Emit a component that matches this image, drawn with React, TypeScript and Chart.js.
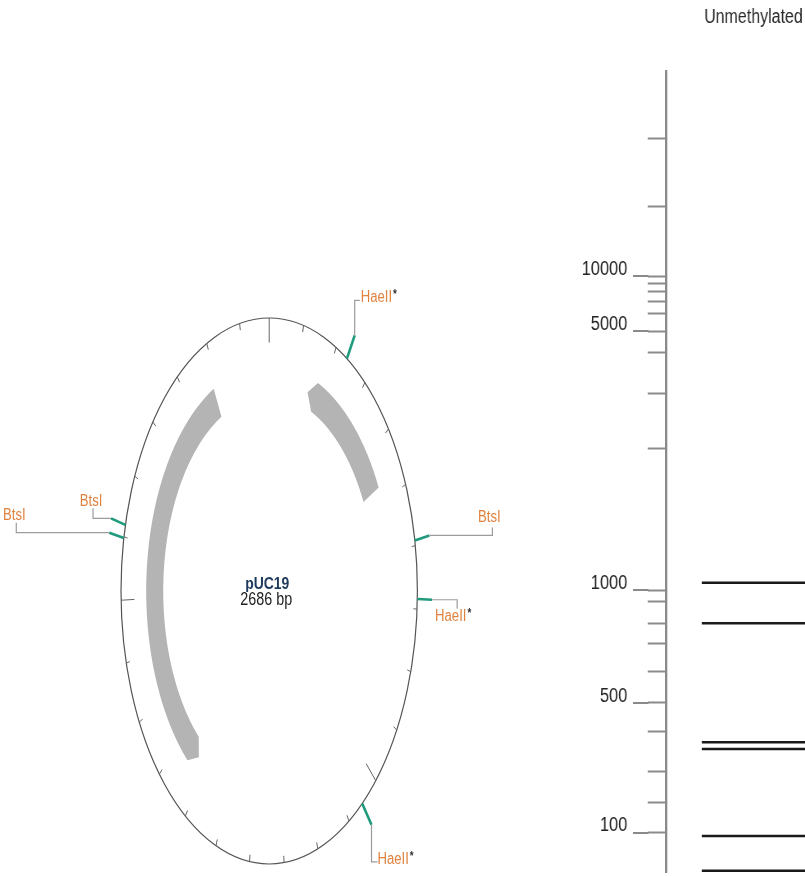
import React, { useEffect, useRef } from 'react';
import { Chart, registerables } from 'chart.js';

Chart.register(...registerables);

// ---------------- Plasmid map data ----------------
const plasmidName = 'pUC19';
const plasmidLength = 2686;
const featureNames = ['lacZα', 'AmpR'];
const featureStarts = [146, 1626];
const featureEnds = [469, 2486];
const featureStrands = [-1, -1];
const siteNames = ['HaeII*', 'BtsI', 'HaeII*', 'HaeII*', 'BtsI', 'BtsI'];
const sitePositions = [236, 592, 684, 1053, 2098, 2119];
const majorTickStep = 1000;
const minorTickStep = 100;

// ---------------- Gel data ----------------
const laneLabels = ['Unmethylated'];
const ladderSizes = [48500, 20000, 10000, 9000, 8000, 7000, 6000, 5000, 4000, 3000, 2000, 1000, 900, 800, 700, 600, 500, 400, 300, 200, 100];
const ladderMigration = [8.4, 16.9, 25.6, 26.5, 27.5, 28.8, 30.3, 32.5, 35.2, 40.2, 47.1, 64.8, 66.2, 69.0, 71.5, 75.0, 78.9, 82.4, 87.4, 91.3, 95.1];
const labeledSizes = [10000, 5000, 1000, 500, 100];
const bandSizes = [1045, 803, 369, 356, 92, 21];
const bandMigration = [63.9, 68.95, 83.8, 84.65, 95.5, 99.85];

// ---------------- Layout / style (not data) ----------------
const FAMILY = "'Liberation Sans', Arial, sans-serif";
const NARROW = 0.82; // horizontal squeeze giving a "narrow" face
const ORANGE = '#e0823f';
const GREEN = '#1f9a7c';
const LEADER = '#9c9c9c';
const FEATURE_GRAY = '#b4b4b4';
const BACKBONE = '#555555';
const AXIS_GRAY = '#8a8a8a';

const mapView = { xMin: -1.8165, xMax: 1.9622, yMin: -1.044, yMax: 2.1648 };
const ringInner = 0.715;
const ringOuter = 0.83;
const headBp = 28;
const siteInnerR = 1.0;
const siteOuterR = 1.1;

const siteLabelLayout = [
  { leader: [[0, -35], [5, 0]], label: [1, -3], align: 'left' },
  { leader: [[63, 0], [0, -8]], label: [-3, -10], align: 'center' },
  { leader: [[25, 0], [0, 9]], label: [-4, 8], align: 'center' },
  { leader: [[0, 37], [6, 0]], label: [0, -2], align: 'left' },
  { leader: [[-93, 0], [0, -10]], label: [-2, -7], align: 'center' },
  { leader: [[-18, 0], [0, -10]], label: [-2, -7], align: 'center' },
];

// gel canvas is rendered wider and squeezed by CSS to a narrow look
const GEL_CSS_W = 245;
const GEL_W = 299;
const laneStart = 0.259;
const laneEnd = 1;
const laneCenter = 0.63;
const majorTickLength = 40;
const minorTickLength = 22;

function toXY(bp: number, r: number) {
  const a = (bp / plasmidLength) * Math.PI * 2;
  return { x: r * Math.sin(a), y: r * Math.cos(a) };
}

function narrowText(ctx: CanvasRenderingContext2D, text: string, x: number, y: number) {
  ctx.save();
  ctx.translate(x, y);
  ctx.scale(NARROW, 1);
  ctx.fillText(text, 0, 0);
  ctx.restore();
}

function drawSiteLabel(ctx: CanvasRenderingContext2D, text: string, x: number, y: number, align: string) {
  const star = text.endsWith('*');
  const main = star ? text.slice(0, -1) : text;
  const labelFont = `16px ${FAMILY}`;
  const starFont = `bold 12px ${FAMILY}`;
  ctx.font = labelFont;
  const w = ctx.measureText(main).width * NARROW;
  ctx.font = starFont;
  const ws = star ? ctx.measureText('*').width * NARROW + 1 : 0;
  const total = w + ws;
  const left = align === 'center' ? x - total / 2 : x;
  ctx.textBaseline = 'middle';
  ctx.textAlign = 'left';
  ctx.font = labelFont;
  ctx.fillStyle = ORANGE;
  narrowText(ctx, main, left, y);
  if (star) {
    ctx.font = starFont;
    ctx.fillStyle = '#333333';
    narrowText(ctx, '*', left + w + 1, y - 3);
  }
}

const mapPlugin = {
  id: 'plasmidMap',
  beforeDatasetsDraw(chart: any) {
    const { ctx } = chart;
    const xs = chart.scales.x;
    const ys = chart.scales.y;
    const px = (bp: number, r: number) => {
      const p = toXY(bp, r);
      return [xs.getPixelForValue(p.x), ys.getPixelForValue(p.y)];
    };
    ctx.save();
    featureStarts.forEach((s, i) => {
      const e = featureEnds[i];
      const strand = featureStrands[i];
      const rMid = (ringInner + ringOuter) / 2;
      const bodyStart = strand < 0 ? s + headBp : s;
      const bodyEnd = strand < 0 ? e : e - headBp;
      const n = 80;
      ctx.beginPath();
      if (strand < 0) {
        const t = px(s, rMid);
        ctx.moveTo(t[0], t[1]);
      }
      for (let k = 0; k <= n; k++) {
        const bp = bodyStart + ((bodyEnd - bodyStart) * k) / n;
        const p = px(bp, ringOuter);
        if (k === 0 && strand >= 0) ctx.moveTo(p[0], p[1]);
        else ctx.lineTo(p[0], p[1]);
      }
      if (strand >= 0) {
        const t = px(e, rMid);
        ctx.lineTo(t[0], t[1]);
      }
      for (let k = n; k >= 0; k--) {
        const bp = bodyStart + ((bodyEnd - bodyStart) * k) / n;
        const p = px(bp, ringInner);
        ctx.lineTo(p[0], p[1]);
      }
      ctx.closePath();
      ctx.fillStyle = FEATURE_GRAY;
      ctx.fill();
    });
    const cx = xs.getPixelForValue(0);
    const cy = ys.getPixelForValue(0);
    const rx = xs.getPixelForValue(1) - cx;
    const ry = cy - ys.getPixelForValue(1);
    ctx.beginPath();
    ctx.ellipse(cx, cy, rx, ry, 0, 0, Math.PI * 2);
    ctx.strokeStyle = BACKBONE;
    ctx.lineWidth = 1.2;
    ctx.stroke();
    ctx.strokeStyle = '#666666';
    ctx.lineWidth = 1;
    for (let bp = 0; bp < plasmidLength; bp += minorTickStep) {
      const major = bp % majorTickStep === 0;
      const a = px(bp, 1);
      const b = px(bp, major ? 0.91 : 0.975);
      ctx.beginPath();
      ctx.moveTo(a[0], a[1]);
      ctx.lineTo(b[0], b[1]);
      ctx.stroke();
    }
    ctx.restore();
  },
  afterDatasetsDraw(chart: any) {
    const { ctx } = chart;
    const xs = chart.scales.x;
    const ys = chart.scales.y;
    ctx.save();
    sitePositions.forEach((pos, i) => {
      const p = toXY(pos, siteOuterR);
      let x = xs.getPixelForValue(p.x);
      let y = ys.getPixelForValue(p.y);
      const lay = siteLabelLayout[i];
      ctx.beginPath();
      ctx.moveTo(x, y);
      lay.leader.forEach(([dx, dy]) => {
        x += dx;
        y += dy;
        ctx.lineTo(x, y);
      });
      ctx.strokeStyle = LEADER;
      ctx.lineWidth = 1.2;
      ctx.stroke();
      drawSiteLabel(ctx, siteNames[i], x + lay.label[0], y + lay.label[1], lay.align);
    });
    const cx = xs.getPixelForValue(0);
    const cy = ys.getPixelForValue(0);
    ctx.textAlign = 'center';
    ctx.textBaseline = 'middle';
    ctx.font = `bold 17px ${FAMILY}`;
    ctx.fillStyle = '#1d3a5c';
    narrowText(ctx, plasmidName, cx - 2, cy - 7);
    ctx.font = `17.5px ${FAMILY}`;
    ctx.fillStyle = '#222222';
    narrowText(ctx, `${plasmidLength} bp`, cx - 3, cy + 9);
    ctx.restore();
  },
};

const majorTickPlugin = {
  id: 'majorTicks',
  afterDraw(chart: any) {
    const { ctx } = chart;
    const ys = chart.scales.y;
    const axisX = ys.right;
    ctx.save();
    ctx.strokeStyle = AXIS_GRAY;
    ctx.lineWidth = 2;
    ladderSizes.forEach((size, i) => {
      if (!labeledSizes.includes(size)) return;
      const y = Math.round(ys.getPixelForValue(ladderMigration[i]));
      ctx.beginPath();
      ctx.moveTo(axisX - majorTickLength, y);
      ctx.lineTo(axisX - minorTickLength + 1, y);
      ctx.stroke();
    });
    ctx.restore();
  },
};

export default function App() {
  const mapRef = useRef<HTMLCanvasElement>(null);
  const gelRef = useRef<HTMLCanvasElement>(null);

  useEffect(() => {
    const mapChart = new Chart(mapRef.current as HTMLCanvasElement, {
      type: 'scatter',
      data: {
        datasets: sitePositions.map((pos, i) => ({
          label: siteNames[i],
          data: [toXY(pos, siteInnerR), toXY(pos, siteOuterR)],
          showLine: true,
          borderColor: GREEN,
          borderWidth: 2.6,
          pointRadius: 0,
        })),
      },
      options: {
        responsive: false,
        animation: false,
        layout: { padding: 0 },
        plugins: { legend: { display: false }, tooltip: { enabled: false } },
        scales: {
          x: { type: 'linear', display: false, min: mapView.xMin, max: mapView.xMax },
          y: { type: 'linear', display: false, min: mapView.yMin, max: mapView.yMax },
        },
      },
      plugins: [mapPlugin],
    } as any);

    const gelChart = new Chart(gelRef.current as HTMLCanvasElement, {
      type: 'scatter',
      data: {
        datasets: bandMigration.map((m, i) => ({
          label: `${bandSizes[i]} bp`,
          data: [
            { x: laneStart, y: m },
            { x: laneEnd, y: m },
          ],
          showLine: true,
          borderColor: '#1a1a1a',
          borderWidth: 2.5,
          pointRadius: 0,
        })),
      },
      options: {
        responsive: false,
        animation: false,
        devicePixelRatio: 1,
        layout: { padding: { left: 0, right: 0, top: 0, bottom: 4 } },
        plugins: { legend: { display: false }, tooltip: { enabled: false } },
        scales: {
          x: {
            type: 'linear',
            position: 'top',
            min: 0,
            max: 1,
            grid: { display: false, drawTicks: false },
            border: { display: false },
            afterBuildTicks: (s: any) => {
              s.ticks = [{ value: laneCenter }];
            },
            ticks: {
              autoSkip: false,
              maxRotation: 0,
              padding: 42,
              font: { family: FAMILY, size: 19.5 },
              color: '#2a2a2a',
              callback: () => laneLabels[0],
            },
            afterFit: (s: any) => {
              s.height = 71;
              s.paddingLeft = 0;
              s.paddingRight = 0;
            },
          },
          y: {
            type: 'linear',
            position: 'left',
            reverse: true,
            min: 0,
            max: 100,
            afterBuildTicks: (s: any) => {
              s.ticks = ladderMigration.map((v) => ({ value: v }));
            },
            ticks: {
              autoSkip: false,
              padding: 25,
              labelOffset: -7,
              font: { family: FAMILY, size: 20 },
              color: '#222222',
              callback: (_v: any, i: number) =>
                labeledSizes.includes(ladderSizes[i]) ? String(ladderSizes[i]) : '',
            },
            grid: {
              display: true,
              drawOnChartArea: false,
              drawTicks: true,
              tickLength: minorTickLength,
              tickColor: AXIS_GRAY,
              tickWidth: 2,
            },
            border: { display: true, color: AXIS_GRAY, width: 3 },
            afterFit: (s: any) => {
              s.width = 129;
              s.paddingTop = 0;
              s.paddingBottom = 0;
            },
          },
        },
      },
      plugins: [majorTickPlugin],
    } as any);

    return () => {
      mapChart.destroy();
      gelChart.destroy();
    };
  }, []);

  return (
    <div style={{ position: 'absolute', left: 0, top: 0, width: 805, height: 876, background: '#ffffff' }}>
      <canvas
        ref={mapRef}
        width={560}
        height={876}
        style={{ position: 'absolute', left: 0, top: 0, width: 560, height: 876 }}
      />
      <canvas
        ref={gelRef}
        width={GEL_W}
        height={876}
        style={{ position: 'absolute', left: 560, top: 0, width: GEL_CSS_W, height: 876 }}
      />
    </div>
  );
}
